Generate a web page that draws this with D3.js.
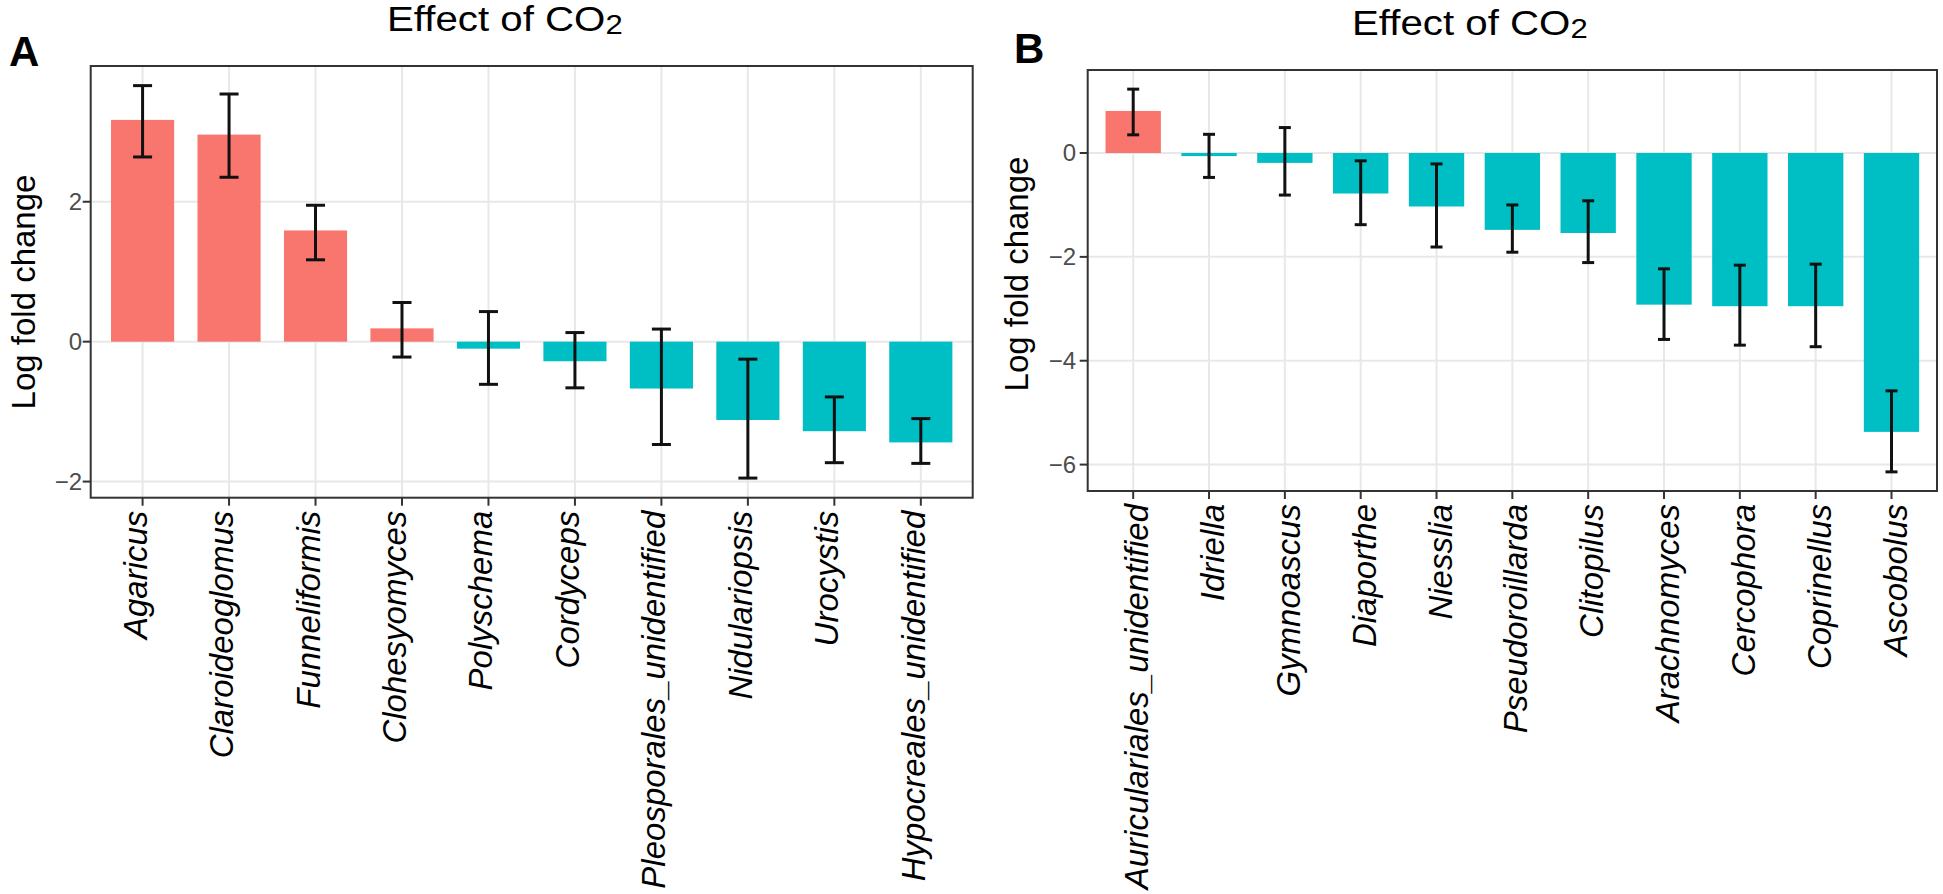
<!DOCTYPE html>
<html><head><meta charset="utf-8">
<script src="https://cdn.jsdelivr.net/npm/d3@7"></script>
<style>
body{margin:0;background:#fff}
svg{display:block}
text{font-family:"Liberation Sans",Arial,Helvetica,sans-serif}
</style>
</head><body>
<svg id="chart" width="1943" height="894"></svg>
<script>
// ---------- Data ----------
const catsA = ["Agaricus","Claroideoglomus","Funneliformis","Clohesyomyces","Polyschema","Cordyceps","Pleosporales_unidentified","Nidulariopsis","Urocystis","Hypocreales_unidentified"];
const lfcA  = [3.17, 2.96, 1.59, 0.19, -0.10, -0.28, -0.67, -1.12, -1.28, -1.44];
const lowA  = [2.64, 2.35, 1.17, -0.22, -0.61, -0.66, -1.47, -1.95, -1.73, -1.74];
const highA = [3.66, 3.54, 1.95, 0.56, 0.43, 0.13, 0.18, -0.25, -0.79, -1.10];
const ticksA = [-2, 0, 2];

const catsB = ["Auriculariales_unidentified","Idriella","Gymnoascus","Diaporthe","Niesslia","Pseudoroillarda","Clitopilus","Arachnomyces","Cercophora","Coprinellus","Ascobolus"];
const lfcB  = [0.81, -0.06, -0.19, -0.78, -1.03, -1.48, -1.54, -2.92, -2.95, -2.95, -5.37];
const lowB  = [0.35, -0.47, -0.81, -1.38, -1.81, -1.91, -2.11, -3.59, -3.70, -3.73, -6.14];
const highB = [1.23, 0.36, 0.49, -0.15, -0.21, -1.00, -0.92, -2.23, -2.16, -2.14, -4.58];
const ticksB = [-6, -4, -2, 0];

const titleMain = "Effect of CO";
const titleSub = "2";
const yTitle = "Log fold change";
const colorUp = "#F8766D";
const colorDown = "#00BFC4";

// ---------- Drawing ----------
const svg = d3.select("#chart");

function panel(cfg) {
  const {cats, lfc, low, high, ticks} = cfg;
  const data = cats.map((c, i) => ({c, v: lfc[i], lo: low[i], hi: high[i]}));
  const x = d3.scalePoint().domain(cats).range([cfg.left, cfg.right]).padding(0.6);
  const mn = d3.min(low), mx = d3.max(high), ex = (mx - mn) * 0.05;
  const y = d3.scaleLinear().domain([mn - ex, mx + ex]).range([cfg.bottom, cfg.top]);
  const step = x.step();
  const bw = step * 0.73;
  const g = svg.append("g");

  // grid
  g.selectAll(".gy").data(ticks).join("line")
    .attr("x1", cfg.left).attr("x2", cfg.right)
    .attr("y1", d => y(d)).attr("y2", d => y(d))
    .attr("stroke", "#E8E8E8").attr("stroke-width", 2);
  g.selectAll(".gx").data(cats).join("line")
    .attr("x1", d => x(d)).attr("x2", d => x(d))
    .attr("y1", cfg.top).attr("y2", cfg.bottom)
    .attr("stroke", "#E8E8E8").attr("stroke-width", 2);

  // bars
  g.selectAll(".bar").data(data).join("rect")
    .attr("x", d => x(d.c) - bw / 2)
    .attr("width", bw)
    .attr("y", d => Math.min(y(d.v), y(0)))
    .attr("height", d => Math.abs(y(d.v) - y(0)))
    .attr("fill", d => d.v >= 0 ? colorUp : colorDown);

  // error bars
  const eb = g.selectAll(".eb").data(data).join("g");
  eb.append("line")
    .attr("x1", d => x(d.c)).attr("x2", d => x(d.c))
    .attr("y1", d => y(d.lo)).attr("y2", d => y(d.hi))
    .attr("stroke", "#111").attr("stroke-width", 3);
  [ "lo", "hi" ].forEach(k => {
    eb.append("line")
      .attr("x1", d => x(d.c) - cfg.capW / 2).attr("x2", d => x(d.c) + cfg.capW / 2)
      .attr("y1", d => y(d[k])).attr("y2", d => y(d[k]))
      .attr("stroke", "#111").attr("stroke-width", 3);
  });

  // border
  g.append("rect")
    .attr("x", cfg.left).attr("y", cfg.top)
    .attr("width", cfg.right - cfg.left).attr("height", cfg.bottom - cfg.top)
    .attr("fill", "none").attr("stroke", "#333").attr("stroke-width", 2);

  // y axis ticks + labels
  g.selectAll(".yt").data(ticks).join("line")
    .attr("x1", cfg.left - 8).attr("x2", cfg.left)
    .attr("y1", d => y(d)).attr("y2", d => y(d))
    .attr("stroke", "#333").attr("stroke-width", 2);
  g.selectAll(".yl").data(ticks).join("text")
    .attr("x", cfg.tickLabelX).attr("y", d => y(d)).attr("dy", "0.35em")
    .attr("text-anchor", "end").attr("font-size", 24).attr("fill", "#4D4D4D")
    .text(d => d < 0 ? "\u2212" + Math.abs(d) : String(d));

  // x axis ticks + labels
  g.selectAll(".xt").data(cats).join("line")
    .attr("x1", d => x(d)).attr("x2", d => x(d))
    .attr("y1", cfg.bottom).attr("y2", cfg.bottom + 8)
    .attr("stroke", "#333").attr("stroke-width", 2);
  g.selectAll(".xl").data(cats).join("text")
    .attr("transform", d => `translate(${x(d) + cfg.xLabOff},${cfg.bottom + 13}) rotate(-90)`)
    .attr("text-anchor", "end").attr("font-size", 33).attr("font-style", "italic")
    .attr("fill", "#000")
    .text(d => d);

  // y title
  g.append("text")
    .attr("transform", `translate(${cfg.yTitleX},${cfg.yTitleY}) rotate(-90)`)
    .attr("text-anchor", "middle").attr("font-size", 33).attr("fill", "#000")
    .text(yTitle);

  // title (glyphs slightly wide in the reference)
  const t = g.append("text")
    .attr("transform", `translate(${cfg.titleX},${cfg.titleY}) scale(1.15,1)`)
    .attr("font-size", 35).attr("fill", "#000");
  t.append("tspan").text(titleMain);
  t.append("tspan").attr("font-size", 27).attr("dy", 2.5).text(titleSub);

  // panel letter
  g.append("text")
    .attr("x", cfg.letterX).attr("y", cfg.letterY)
    .attr("font-size", 42).attr("font-weight", "bold").attr("fill", "#000")
    .text(cfg.letter);
}

panel({cats: catsA, lfc: lfcA, low: lowA, high: highA, ticks: ticksA,
  left: 90.7, right: 972.7, top: 66, bottom: 497.7, capW: 19, xLabOff: 4,
  tickLabelX: 82, yTitleX: 35, yTitleY: 292,
  titleX: 387, titleY: 31, letter: "A", letterX: 9, letterY: 66});

panel({cats: catsB, lfc: lfcB, low: lowB, high: highB, ticks: ticksB,
  left: 1087.7, right: 1937, top: 70, bottom: 491, capW: 12, xLabOff: 15,
  tickLabelX: 1076, yTitleX: 1028, yTitleY: 274,
  titleX: 1352, titleY: 35, letter: "B", letterX: 1014, letterY: 63});
</script>
</body></html>
